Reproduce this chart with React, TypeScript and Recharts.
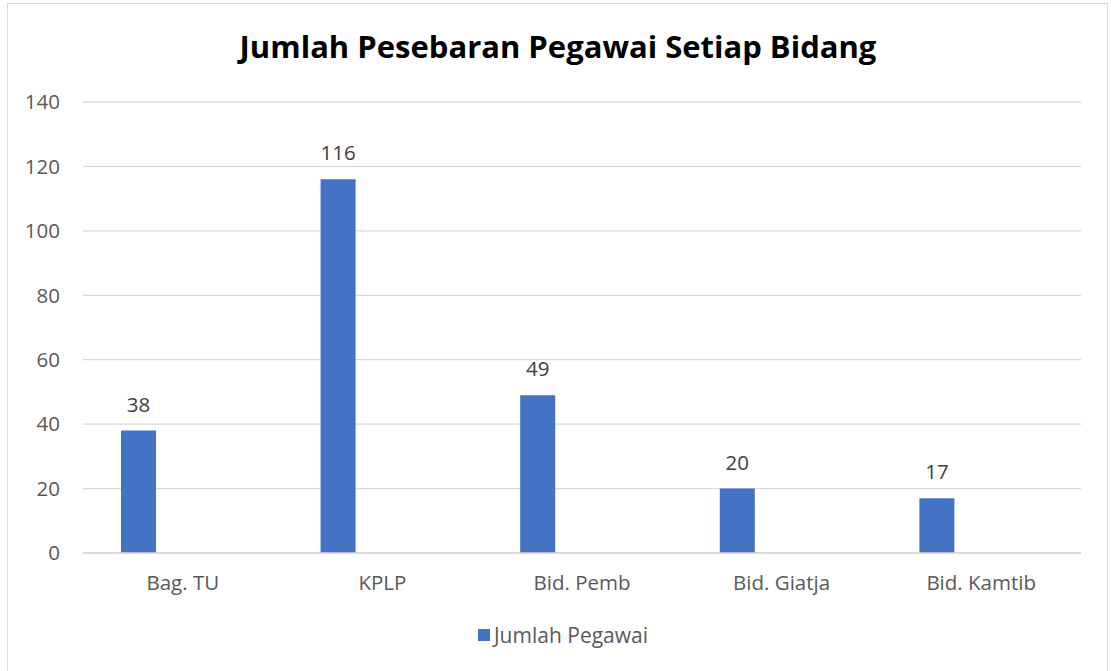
import { BarChart, Bar, XAxis, YAxis, CartesianGrid, Legend, LabelList } from "recharts";

const categories = ["Bag. TU", "KPLP", "Bid. Pemb", "Bid. Giatja", "Bid. Kamtib"];
const pegawai = [38, 116, 49, 20, 17];
const yTicks = [0, 20, 40, 60, 80, 100, 120, 140];

const data = categories.map((name, i) => ({ name, pegawai: pegawai[i], kosong: null }));

const FONT = "'Open Sans', 'Noto Sans', sans-serif";
const BLUE = "#4472C4";
const FS = 20.5;

const LegendBox = () => (
  <div style={{ display: "flex", justifyContent: "center", alignItems: "center", height: 24, paddingLeft: 22, fontFamily: FONT, fontSize: 21, color: "#595959" }}>
    <span style={{ width: 12, height: 12, background: BLUE, display: "inline-block", marginRight: 4 }} />
    <span>Jumlah Pegawai</span>
  </div>
);

export default function App() {
  return (
    <div style={{ position: "absolute", left: 0, top: 0, width: 1111, height: 671, background: "#fff", overflow: "hidden" }}>
      <div style={{ position: "absolute", left: 7, top: 3, width: 1101, height: 700, border: "1px solid #d9d9d9", boxSizing: "border-box" }} />
      <div style={{ position: "absolute", left: 0, top: 25, width: 1116, textAlign: "center", fontFamily: FONT, fontWeight: 700, fontSize: 31, color: "#000" }}>
        Jumlah Pesebaran Pegawai Setiap Bidang
      </div>
      <BarChart
        width={1111}
        height={671}
        data={data}
        margin={{ top: 102, right: 30, left: 23, bottom: 24 }}
        barSize={35}
        barGap={54}
        style={{ position: "absolute", left: 0, top: 0 }}
      >
        <CartesianGrid vertical={false} stroke="#d9d9d9" strokeWidth={1.3} />
        <XAxis
          dataKey="name"
          height={70}
          tickLine={false}
          axisLine={{ stroke: "#d9d9d9", strokeWidth: 1.3 }}
          tickMargin={16}
          tick={{ fontFamily: FONT, fontSize: FS, fill: "#595959" }}
        />
        <YAxis
          width={60}
          domain={[0, 140]}
          ticks={yTicks}
          interval={0}
          tickLine={false}
          axisLine={false}
          tickMargin={17}
          tick={{ fontFamily: FONT, fontSize: FS, fill: "#595959" }}
        />
        <Legend verticalAlign="bottom" height={24} content={() => <LegendBox />} />
        <Bar dataKey="pegawai" name="Jumlah Pegawai" fill={BLUE} isAnimationActive={false}>
          <LabelList dataKey="pegawai" position="top" offset={19} style={{ fontFamily: FONT, fontSize: FS, fill: "#404040" }} />
        </Bar>
        <Bar dataKey="kosong" legendType="none" fill="transparent" isAnimationActive={false} />
      </BarChart>
    </div>
  );
}
